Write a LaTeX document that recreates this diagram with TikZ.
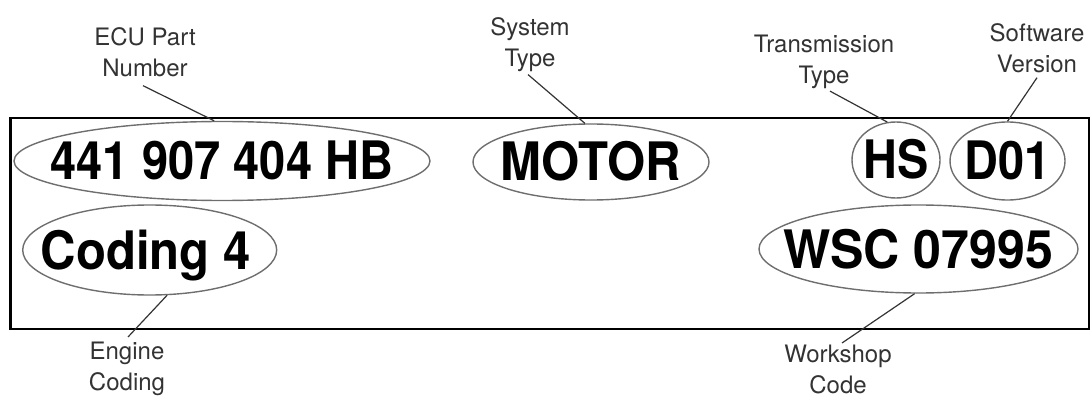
\documentclass[tikz,border=0pt]{standalone}
\usepackage{fontspec}
\usepackage{graphicx}
\setmainfont{TeX Gyre Heros}
\newfontfamily\codefont{TeX Gyre Heros}
\usetikzlibrary{shapes.geometric}
\definecolor{labelgray}{HTML}{333333}
\definecolor{ringgray}{HTML}{6E6E6E}
\newcommand\ctext[3][0pt]{\kern#1\makebox[0pt]{\scalebox{#2}[1]{#3}}\kern-#1}
\tikzset{
  ring/.style={ellipse, draw=ringgray, line width=1.4pt, inner sep=0pt,
    text height=38pt, text depth=0pt,
    font=\codefont\bfseries\fontsize{53}{58}\selectfont},
  callout/.style={align=center, inner sep=0pt, anchor=north, text=labelgray,
    font=\fontsize{24}{31}\selectfont},
  leader/.style={draw=labelgray, line width=1.2pt},
  panel/.style={draw=black, line width=2.5pt}
}
\begin{document}
\begin{tikzpicture}[x=1pt,y=-1pt]
\useasboundingbox (0,0) rectangle (1092,398);
\draw[panel] (10.5,118) rectangle (1089,329);

\node[ring, minimum width=416pt, minimum height=79pt] (p441) at (222,161) {\ctext{0.888}{441 907 404 HB}};
\node[ring, minimum width=236pt, minimum height=76pt] (motor) at (591,162) {\ctext{0.927}{MOTOR}};
\node[ring, minimum width=88pt, minimum height=76pt] (hs) at (896,160) {\ctext{0.883}{HS}};
\node[ring, minimum width=115pt, minimum height=78pt] (d01) at (1007.5,161) {\ctext{0.885}{D01}};
\node[ring, minimum width=254pt, minimum height=90pt] (coding) at (149.7,250) {\ctext[-4pt]{0.926}{Coding 4}};
\node[ring, minimum width=319pt, minimum height=88pt] (wsc) at (918.5,249) {\ctext{0.945}{WSC 07995}};

\node[callout] (ecu) at (145,27) {ECU Part\\Number};
\node[callout] (sys) at (530,17) {System\\Type};
\node[callout] (trans) at (824,35) {Transmission\\Type};
\node[callout] (soft) at (1037,23) {Software\\Version};
\node[callout] (eng) at (127,342) {Engine\\Coding};
\node[callout] (work) at (838,344.5) {Workshop\\Code};

\draw[leader] ([xshift=-2pt,yshift=-9pt]ecu.south) -- (p441.101);
\draw[leader] ([xshift=-2pt,yshift=-3pt]sys.south) -- (motor.99);
\draw[leader] ([xshift=6pt,yshift=-2pt]trans.south) -- (hs.103);
\draw[leader] ([yshift=-5pt]soft.south) -- (d01.90);
\draw[leader] (coding.291) -- ([xshift=1pt,yshift=5pt]eng.north);
\draw[leader] (wsc.265) -- ([xshift=4pt,yshift=1.5pt]work.north);
\end{tikzpicture}
\end{document}
